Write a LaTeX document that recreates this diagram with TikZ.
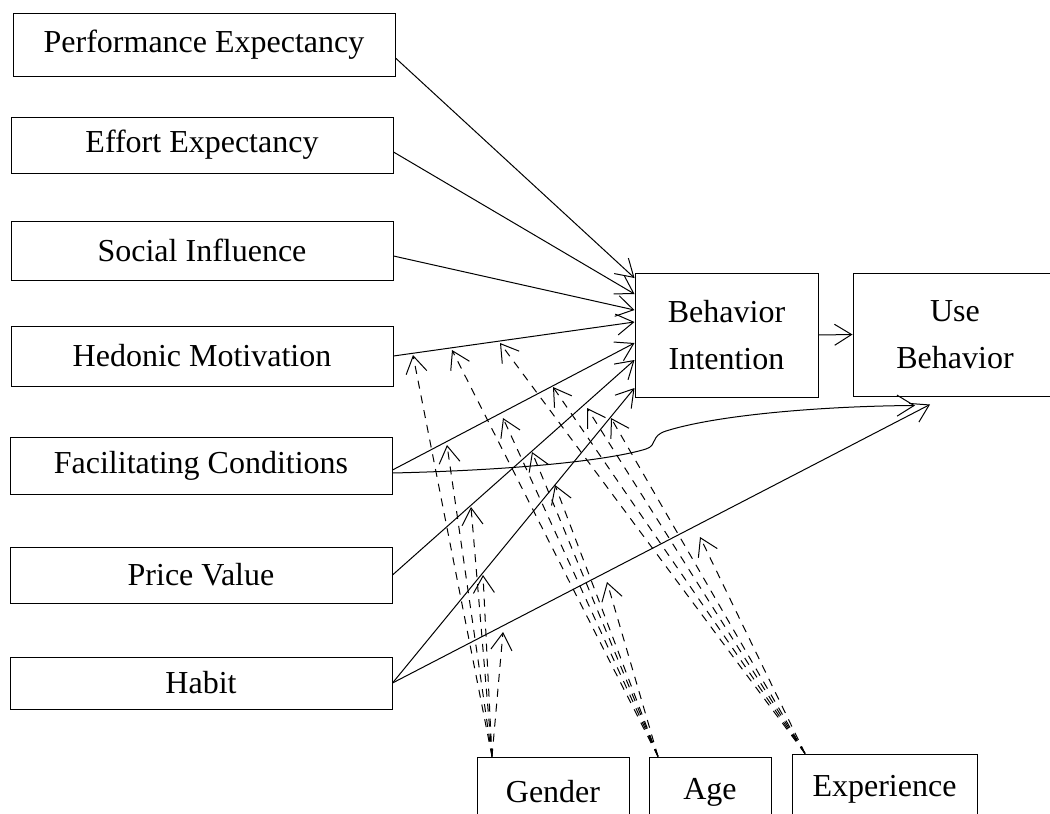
\documentclass[tikz,border=0pt]{standalone}
\usepackage{fontspec}
\setmainfont{Liberation Serif}
\usetikzlibrary{arrows.meta,calc}
\begin{document}
\begin{tikzpicture}[x=1pt,y=-1pt,
  box/.style={draw,line width=1pt,inner sep=0pt,align=center,font=\fontsize{32}{47}\selectfont},
  arr/.style={line width=1pt,-{Straight Barb[length=17pt,width=21pt,line width=1pt]}},
  mod/.style={arr,dash pattern=on 8pt off 7pt}]
\useasboundingbox (0,0) rectangle (1050,814);
\clip (0,0) rectangle (1050,814);
% left constructs
\node[box,minimum width=382pt,minimum height=63pt] (PE) at (204,44.5) {Performance Expectancy};
\node[box,minimum width=382pt,minimum height=56pt] (EE) at (202,145) {Effort Expectancy};
\node[box,minimum width=382pt,minimum height=59pt] (SI) at (202,250.5) {Social Influence};
\node[box,minimum width=382pt,minimum height=60pt] (HM) at (202,356) {Hedonic Motivation};
\node[box,minimum width=382pt,minimum height=57pt] (FC) at (201,465.5) {Facilitating Conditions};
\node[box,minimum width=382pt,minimum height=56pt] (PV) at (201,575) {Price Value};
\node[box,minimum width=382pt,minimum height=52pt] (HB) at (201,683) {Habit};
% outcomes
\node[box,minimum width=183pt,minimum height=124pt] (BI) at (726.5,335) {Behavior\\Intention};
\node[box,minimum width=204pt,minimum height=123pt] (UB) at (955,334.5) {Use\\Behavior};
% moderators
\node[box,minimum width=152pt,minimum height=70pt] (GE) at (553,792) {Gender};
\node[box,minimum width=122pt,minimum height=70pt] (AG) at (710,792) {Age};
\node[box,minimum width=185pt,minimum height=70pt] (EX) at (884.5,789) {Experience};
% arrow ends on BI
\coordinate (b1) at ([yshift=57pt]BI.west);
\coordinate (b2) at ([yshift=41pt]BI.west);
\coordinate (b3) at ([yshift=25pt]BI.west);
\coordinate (b4) at ([yshift=13pt]BI.west);
\coordinate (b5) at ([yshift=-8pt]BI.west);
\coordinate (b6) at ([yshift=-25pt]BI.west);
\coordinate (b7) at ([yshift=-53pt]BI.west);
\coordinate (u1) at ([xshift=-40pt,yshift=-9pt]UB.south);
\coordinate (u2) at ([xshift=-25pt,yshift=-8pt]UB.south);
% main paths
\draw[arr] ([yshift=-13.5pt]PE.east) -- (b1);
\draw[arr] ([yshift=-7pt]EE.east) -- (b2);
\draw[arr] ([yshift=-5.5pt]SI.east) -- (b3);
\draw[arr] (HM.east) -- (b4);
\draw[arr] ([yshift=-4.5pt]FC.east) -- (b5);
\draw[arr] (PV.east) -- (b6);
\draw[arr] (HB.east) -- (b7);
\draw[arr] (HB.east) -- (u2);
\draw[arr] (BI.east) -- (UB.west);
\draw[arr] ([yshift=-7.5pt]FC.east) .. controls (520,470) and (610,460) .. (646,449)
  .. controls (658,445) and (650,436) .. (666,431)
  .. controls (720,414) and (830,406) .. (u1);
% moderation tips
\coordinate (hm1) at (413,355); \coordinate (hm2) at (452,350); \coordinate (hm3) at (500,343);
\coordinate (fc1) at (447,445); \coordinate (fc2) at (503,418); \coordinate (fc3) at (553,387);
\coordinate (pv1) at (471,507); \coordinate (pv2) at (532,452); \coordinate (pv3) at (587,408);
\coordinate (hb1) at (483,575); \coordinate (hb2) at (555,485); \coordinate (hb3) at (611,418);
\coordinate (hu1) at (503,632); \coordinate (hu2) at (607,582); \coordinate (hu3) at (700,537);
\coordinate (g0) at ([xshift=-61pt]GE.north);
\coordinate (a0) at ([xshift=-52pt]AG.north);
\coordinate (e0) at ([xshift=-79.5pt]EX.north);
\foreach \t in {hm1,fc1,pv1,hb1,hu1} \draw[mod] (g0) -- (\t);
\foreach \t in {hm2,fc2,pv2,hb2,hu2} \draw[mod] (a0) -- (\t);
\foreach \t in {hm3,fc3,pv3,hb3,hu3} \draw[mod] (e0) -- (\t);
\end{tikzpicture}
\end{document}
